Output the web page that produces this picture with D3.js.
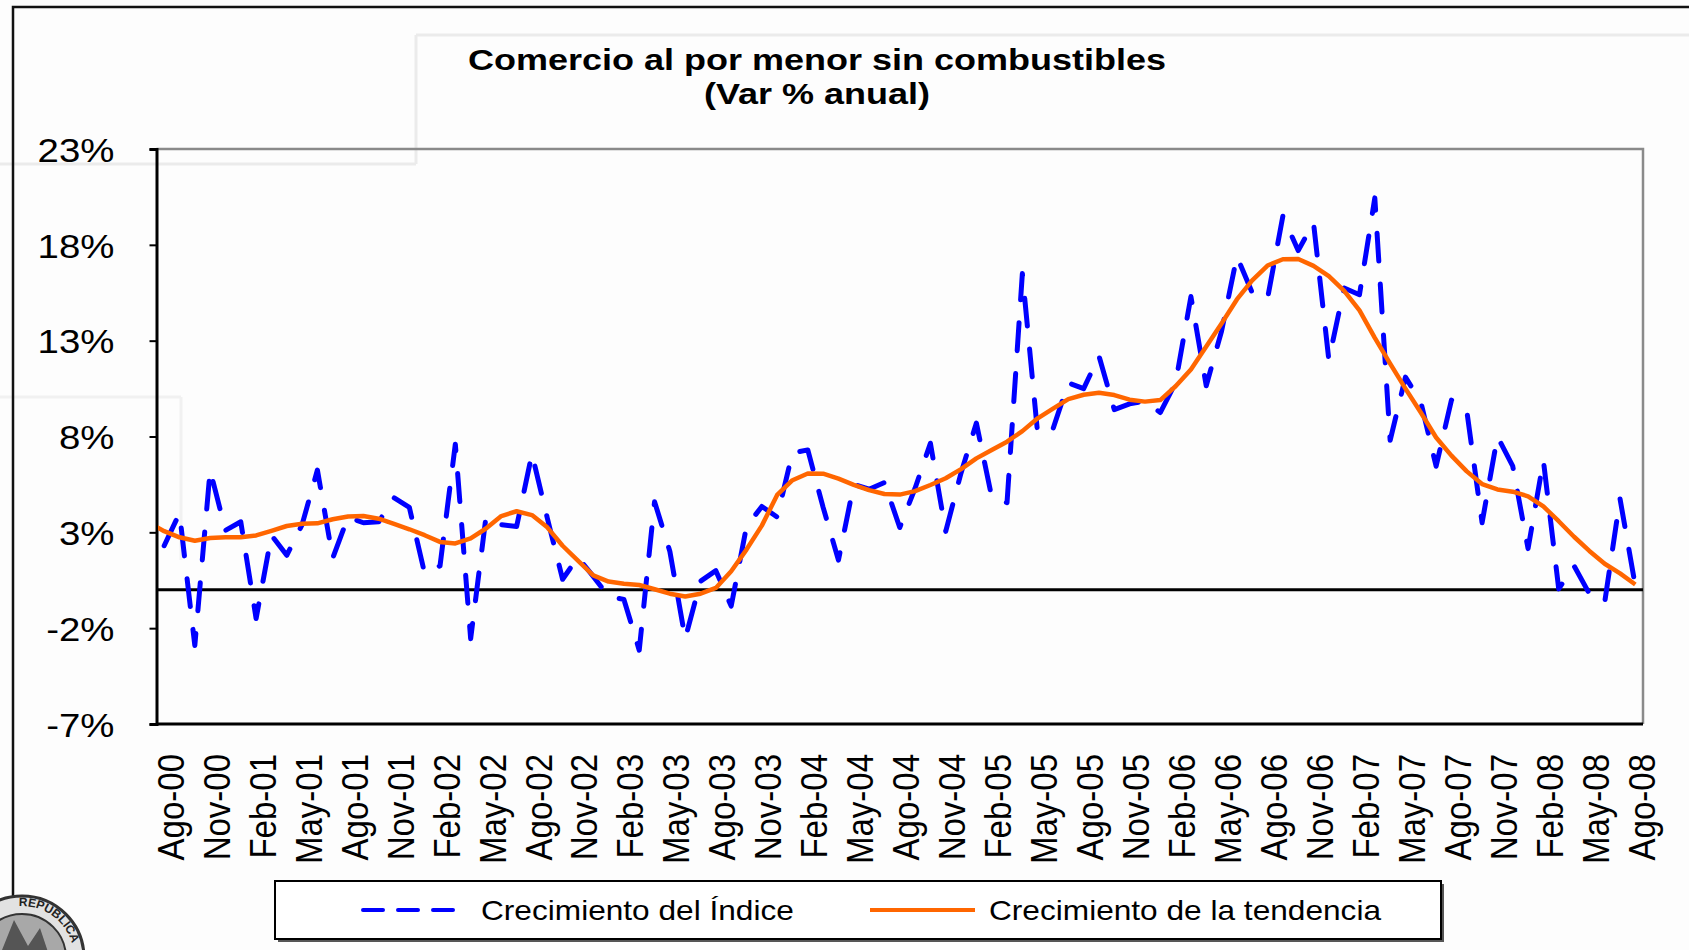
<!DOCTYPE html>
<html>
<head>
<meta charset="utf-8">
<script src="https://cdn.jsdelivr.net/npm/d3@7"></script>
<style>
  html, body { margin: 0; padding: 0; background: #fdfdfd; }
  svg { display: block; font-family: "Liberation Sans", Arial, sans-serif; }
</style>
</head>
<body>
<svg id="chart" width="1689" height="950"></svg>
<script>
// ---- Data -------------------------------------------------------------
// Monthly categories, Jul-00 .. Ago-08 (the trend series starts one month earlier)
const monthNames = ["Ene","Feb","Mar","Abr","May","Jun","Jul","Ago","Sep","Oct","Nov","Dic"];
const months = [];
for (let k = 0; k < 98; k++) {
  const m = (6 + k) % 12, yr = 2000 + Math.floor((6 + k) / 12);
  months.push(monthNames[m] + "-" + String(yr % 100).padStart(2, "0"));
}

// Crecimiento del Índice (var % anual)
const indexGrowth = [null,
  2.3, 4.0, -2.9, 6.25, 3.1, 3.55, -1.5, 2.85, 1.8, 3.4, 6.25, 1.65,
  3.8, 3.5, 3.55, 4.8, 4.3, 0.85, 1.25, 7.6, -2.55, 3.8, 3.4, 3.3,
  7.1, 3.75, 0.55, 1.7, 0.7, -0.35, -0.5, -3.15, 4.6, 2.0, -2.55, 0.45,
  1.0, -0.85, 3.3, 4.35, 3.8, 7.15, 7.3, 4.3, 1.55, 5.5, 5.25, 5.6,
  3.25, 5.3, 7.65, 3.05, 6.1, 8.7, 4.85, 4.55, 16.5, 8.15, 8.4, 10.8,
  10.5, 12.2, 9.4, 9.7, 9.85, 9.25, 10.8, 15.3, 10.65, 13.5, 17.4, 15.5,
  15.2, 19.5, 17.7, 19.15, 12.0, 15.75, 15.4, 20.45, 7.8, 11.1, 9.8, 6.45,
  9.9, 9.35, 3.5, 8.0, 6.45, 2.15, 6.75, 0.05, 1.25, -0.2, -0.65, 4.75,
  0.2];

// Crecimiento de la tendencia (var % anual)
const trendGrowth = [3.5,
  3.06, 2.74, 2.56, 2.7, 2.74, 2.74, 2.84, 3.08, 3.33, 3.45, 3.47, 3.68,
  3.83, 3.85, 3.71, 3.44, 3.16, 2.85, 2.5, 2.42, 2.68, 3.2, 3.85, 4.1,
  3.9, 3.26, 2.3, 1.53, 0.75, 0.43, 0.32, 0.25, 0.03, -0.2, -0.35, -0.2,
  0.1, 0.97, 2.1, 3.35, 4.95, 5.72, 6.07, 6.06, 5.8, 5.48, 5.2, 5.0,
  4.97, 5.15, 5.47, 5.82, 6.3, 6.86, 7.3, 7.73, 8.28, 8.95, 9.45, 9.95,
  10.18, 10.28, 10.16, 9.92, 9.82, 9.9, 10.62, 11.5, 12.7, 13.9, 15.15, 16.15,
  16.92, 17.25, 17.26, 16.9, 16.37, 15.6, 14.58, 13.15, 11.8, 10.5, 9.25, 7.95,
  7.0, 6.18, 5.52, 5.24, 5.12, 4.88, 4.35, 3.58, 2.77, 2.03, 1.36, 0.86,
  0.28];

const xTickLabels = ["Ago-00","Nov-00","Feb-01","May-01","Ago-01","Nov-01","Feb-02","May-02",
  "Ago-02","Nov-02","Feb-03","May-03","Ago-03","Nov-03","Feb-04","May-04","Ago-04","Nov-04",
  "Feb-05","May-05","Ago-05","Nov-05","Feb-06","May-06","Ago-06","Nov-06","Feb-07","May-07",
  "Ago-07","Nov-07","Feb-08","May-08","Ago-08"];
const yTickValues = [-7, -2, 3, 8, 13, 18, 23];

const titleLines = ["Comercio al por menor sin combustibles", "(Var % anual)"];
const seriesNames = ["Crecimiento del Índice", "Crecimiento de la tendencia"];

// ---- Layout ----------------------------------------------------------
const svg = d3.select("#chart");
const W = 1689, H = 950;
const plot = { left: 156.5, right: 1643, top: 149, bottom: 724 };
const SX = 1.13;           // horizontal stretch of the lettering
const BLUE = "#0000ff", ORANGE = "#ff6600";

svg.append("rect").attr("width", W).attr("height", H).attr("fill", "#fdfdfd");

// faint slide panels in the background
const faint = svg.append("g").attr("stroke", "#ebebeb").attr("stroke-width", 3).attr("fill", "none");
faint.append("path").attr("d", "M416,35 H1689 M416,35 V164 M0,164 H416");
faint.append("path").attr("d", "M0,397 H181 M181,397 V560").attr("stroke", "#f1f1f1");

// page frame
svg.append("path").attr("d", "M13,950 V7 H1689")
  .attr("fill", "none").attr("stroke", "#111").attr("stroke-width", 2.5);

// ---- Scales ------------------------------------------------------------
// categories Ago-00..Ago-08 sit at band centres of the plot width
const step = (plot.right - plot.left) / 97;
const x = d3.scalePoint().domain(months)
  .range([plot.left - step / 2, plot.right - step / 2]);
const y = d3.scaleLinear().domain([-7, 23]).range([plot.bottom, plot.top]);

// plot frame (top / right in grey)
svg.append("path")
  .attr("d", `M${plot.left},${plot.top} H${plot.right} V${plot.bottom}`)
  .attr("fill", "none").attr("stroke", "#8a8a8a").attr("stroke-width", 2.5);

// ---- Axes ---------------------------------------------------------------
const yAxis = svg.append("g")
  .attr("transform", `translate(${plot.left},0)`)
  .call(d3.axisLeft(y).tickValues(yTickValues).tickSize(7).tickFormat(d => d + "%"));
yAxis.select(".domain").attr("stroke", "#000").attr("stroke-width", 3);
yAxis.selectAll(".tick line").attr("stroke", "#000").attr("stroke-width", 2);
yAxis.selectAll(".tick text")
  .attr("x", 0).attr("dy", "0.36em")
  .attr("transform", `translate(-42,0) scale(${SX},1)`)
  .attr("font-size", 34).attr("fill", "#000")
  .attr("font-family", "Liberation Sans, Arial, sans-serif");

const xAxis = svg.append("g")
  .attr("transform", `translate(0,${plot.bottom})`)
  .call(d3.axisBottom(x).tickValues(xTickLabels).tickSize(0));
xAxis.select(".domain").remove();
xAxis.selectAll(".tick text")
  .attr("x", 0).attr("y", 0).attr("dy", "0.35em")
  .attr("text-anchor", "end")
  .attr("transform", `translate(6,30) scale(${SX},1) rotate(-90)`)
  .attr("font-size", 33).attr("fill", "#000")
  .attr("font-family", "Liberation Sans, Arial, sans-serif");

// bottom axis line at -7%
svg.append("line")
  .attr("x1", plot.left).attr("x2", plot.right)
  .attr("y1", y(-7)).attr("y2", y(-7))
  .attr("stroke", "#000").attr("stroke-width", 3);

// zero line
svg.append("line")
  .attr("x1", plot.left).attr("x2", plot.right)
  .attr("y1", y(0)).attr("y2", y(0))
  .attr("stroke", "#000").attr("stroke-width", 3);

// ---- Series ----------------------------------------------------------------
svg.append("defs").append("clipPath").attr("id", "plotClip")
  .append("rect")
  .attr("x", plot.left + 1.5).attr("y", plot.top)
  .attr("width", plot.right - plot.left - 1.5).attr("height", plot.bottom - plot.top);

const line = d3.line()
  .defined(d => d.v != null)
  .x(d => x(d.m)).y(d => y(d.v));

const series = svg.append("g").attr("clip-path", "url(#plotClip)");

series.append("path")
  .datum(months.map((m, k) => ({ m, v: indexGrowth[k] })))
  .attr("d", line)
  .attr("fill", "none").attr("stroke", BLUE).attr("stroke-width", 5)
  .attr("stroke-dasharray", "28,23").attr("stroke-linecap", "round")
  .attr("stroke-linejoin", "round");

series.append("path")
  .datum(months.map((m, k) => ({ m, v: trendGrowth[k] })))
  .attr("d", line)
  .attr("fill", "none").attr("stroke", ORANGE).attr("stroke-width", 4.5)
  .attr("stroke-linejoin", "round");

// ---- Title -----------------------------------------------------------------
const title = svg.append("g").attr("font-weight", "bold").attr("font-size", 30).attr("fill", "#000");
title.append("text").attr("text-anchor", "middle")
  .attr("transform", `translate(817,70) scale(1.2,1)`).text(titleLines[0]);
title.append("text").attr("text-anchor", "middle")
  .attr("transform", `translate(817,104) scale(1.2,1)`).text(titleLines[1]);

// ---- Legend ----------------------------------------------------------------
const lg = svg.append("g");
lg.append("rect").attr("x", 278).attr("y", 884).attr("width", 1166).attr("height", 58)
  .attr("fill", "#555");
lg.append("rect").attr("x", 275).attr("y", 881).attr("width", 1166).attr("height", 58)
  .attr("fill", "#fff").attr("stroke", "#000").attr("stroke-width", 2);
lg.append("line").attr("x1", 363).attr("x2", 468).attr("y1", 910).attr("y2", 910)
  .attr("stroke", BLUE).attr("stroke-width", 4).attr("stroke-dasharray", "20,15")
  .attr("stroke-linecap", "round");
lg.append("text").attr("transform", `translate(481,920) scale(${SX},1)`)
  .attr("font-size", 28).attr("fill", "#000").text(seriesNames[0]);
lg.append("line").attr("x1", 870).attr("x2", 975).attr("y1", 910).attr("y2", 910)
  .attr("stroke", ORANGE).attr("stroke-width", 4);
lg.append("text").attr("transform", `translate(989,920) scale(${SX},1)`)
  .attr("font-size", 28).attr("fill", "#000").text(seriesNames[1]);

// ---- Seal in the lower-left corner --------------------------------------------
const seal = svg.append("g").attr("transform", "translate(22,958)");
seal.append("circle").attr("r", 62).attr("fill", "#e2e2e2").attr("stroke", "#333").attr("stroke-width", 3);
seal.append("circle").attr("r", 44).attr("fill", "#a8a8a8").attr("stroke", "#333").attr("stroke-width", 2);
seal.append("path").attr("d", "M-20,-8 L-8,-38 L6,-12 L18,-30 L26,-6 Z").attr("fill", "#555");
seal.append("defs").append("path").attr("id", "sealArc")
  .attr("d", "M-52,0 A52,52 0 0 1 52,0");
seal.append("text").attr("font-size", 12).attr("font-weight", "bold").attr("fill", "#222")
  .append("textPath").attr("href", "#sealArc").attr("startOffset", "48%")
  .text("REPUBLICA");
</script>
</body>
</html>
